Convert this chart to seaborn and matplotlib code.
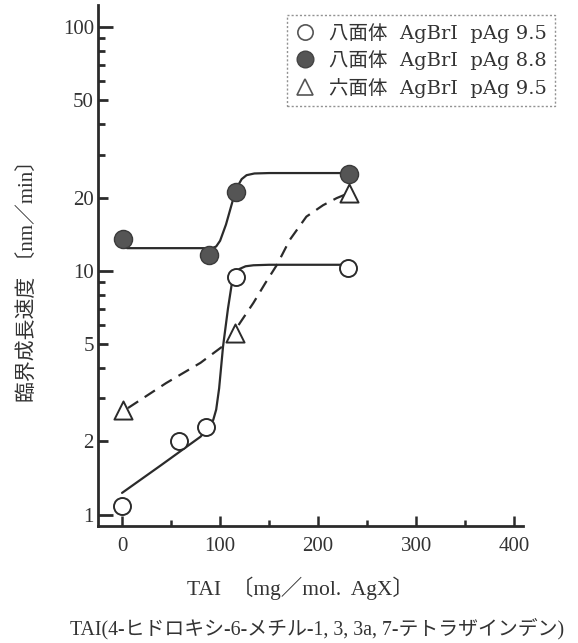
import numpy as np
import pandas as pd
import matplotlib
matplotlib.use("Agg")
import matplotlib.pyplot as plt
import seaborn as sns
from matplotlib.lines import Line2D

sns.set_theme(style="ticks")
FONT = ["Liberation Serif", "Noto Sans CJK JP", "DejaVu Sans"]
WIDE = ["DejaVu Serif", "Noto Sans CJK JP", "DejaVu Sans"]
plt.rcParams["font.family"] = FONT

# measured points
oct95_x = [0, 58, 86, 116, 230]
oct95_y = [1.09, 2.0, 2.29, 9.4, 10.3]
oct88_x = [1, 89, 116, 231]
oct88_y = [13.5, 11.6, 21.0, 24.9]
hex95_x = [1, 115, 231]
hex95_y = [2.69, 5.55, 20.9]

# hand-drawn trend curves through the measurements
oct95_curve_x = [0, 40, 80, 88, 93, 96, 99, 103, 108, 112, 116, 120, 126, 134, 150, 230]
oct95_curve_y = [1.23, 1.6, 2.09, 2.28, 2.45, 2.7, 3.3, 4.9, 7.0, 8.9, 9.8, 10.2, 10.45, 10.55, 10.6, 10.6]
oct88_curve_x = [5, 60, 92, 96, 100, 106, 113, 118, 122, 127, 135, 150, 228]
oct88_curve_y = [12.4, 12.4, 12.4, 12.6, 13.3, 15.5, 19.5, 22.3, 23.8, 24.7, 25.1, 25.2, 25.2]
hex95_curve_x = [6, 45, 80, 107, 120, 134, 146, 158, 171, 188, 205, 219, 228]
hex95_curve_y = [2.74, 3.47, 4.2, 5.06, 6.1, 7.4, 8.9, 10.6, 13.4, 16.7, 18.6, 19.9, 20.6]

legend_labels = ["八面体  AgBrI  pAg 9.5", "八面体  AgBrI  pAg 8.8", "六面体  AgBrI  pAg 9.5"]
y_major = [1, 2, 5, 10, 20, 50, 100]
y_minor = [3, 4, 6, 7, 8, 9, 30, 40, 60, 70, 80, 90]
x_major = [0, 100, 200, 300, 400]
x_minor = [50, 150, 250, 350]

ink = "#2b2b2b"
fig = plt.figure(figsize=(5.78, 6.43), dpi=100)
ax = fig.add_axes([0.1696, 0.182, 0.7354, 0.810])

curves = [
    (oct95_curve_x, oct95_curve_y, "-"),
    (oct88_curve_x, oct88_curve_y, "-"),
    (hex95_curve_x, hex95_curve_y, (0, (5.5, 3.5))),
]
for cx, cy, ls in curves:
    sns.lineplot(x=cx, y=cy, ax=ax, color=ink, linewidth=1.6, estimator=None,
                 sort=False, linestyle=ls)

sns.scatterplot(x=oct95_x, y=oct95_y, ax=ax, marker="o", s=150, facecolor="white",
                edgecolor=ink, linewidth=1.4, zorder=5)
sns.scatterplot(x=oct88_x, y=oct88_y, ax=ax, marker="o", s=170, color="#555555",
                edgecolor="#3a3a3a", linewidth=1.0, zorder=5)
sns.scatterplot(x=hex95_x, y=hex95_y, ax=ax, marker="^", s=170, facecolor="white",
                edgecolor=ink, linewidth=1.4, zorder=5)

ax.set_yscale("log")
ax.set_xlim(-24.5, 409)
ax.set_ylim(0.90, 123)
ax.set_yticks(y_major)
ax.set_yticklabels([str(v) for v in y_major])
ax.set_yticks(y_minor, minor=True)
ax.set_yticklabels([], minor=True)
ax.set_xticks(x_major)
ax.set_xticklabels([str(v) for v in x_major])
ax.set_xticks(x_minor, minor=True)

for side in ["top", "right"]:
    ax.spines[side].set_visible(False)
for side in ["left", "bottom"]:
    ax.spines[side].set_linewidth(2.0)
    ax.spines[side].set_color(ink)

ax.tick_params(axis="both", which="both", direction="in", colors=ink,
               labelsize=15, labelcolor="#333333")
ax.tick_params(axis="y", which="major", length=7, width=2.0, pad=3)
ax.tick_params(axis="y", which="minor", length=5, width=2.0)
ax.tick_params(axis="x", which="major", length=7, width=1.8, pad=8)
ax.tick_params(axis="x", which="minor", length=4, width=1.8)
# decade ticks drawn longer
for t in ax.yaxis.get_major_ticks():
    if t.get_loc() in (1, 10, 100):
        t.tick1line.set_markersize(11)

ax.set_xlabel("")
ax.set_ylabel("")
fig.text(0.050, 0.571, "臨界成長速度 〔nm／min〕", rotation=90, ha="center", va="center",
         fontsize=15, color="#333333", family=FONT)
fig.text(0.519, 0.085, "TAI  〔mg／mol.  AgX〕", ha="center", va="center",
         fontsize=15.5, color="#333333", family=FONT)
fig.text(0.549, 0.023, "TAI(4-ヒドロキシ-6-メチル-1, 3, 3a, 7-テトラザインデン)",
         ha="center", va="center", fontsize=14.3, color="#333333", family=FONT)

handles = [
    Line2D([], [], linestyle="none", marker="o", markersize=11, markerfacecolor="white",
           markeredgecolor="#555555", markeredgewidth=1.2),
    Line2D([], [], linestyle="none", marker="o", markersize=12, markerfacecolor="#555555",
           markeredgecolor="#444444"),
    Line2D([], [], linestyle="none", marker="^", markersize=11, markerfacecolor="white",
           markeredgecolor="#555555", markeredgewidth=1.2),
]
leg = ax.legend(handles, legend_labels, loc="upper right",
                bbox_to_anchor=(555 / 578, 1 - 15 / 643), bbox_transform=fig.transFigure,
                borderaxespad=0.0, frameon=True, fancybox=False, handletextpad=0.75,
                handlelength=1.0, labelspacing=0.38, borderpad=0.42,
                prop={"family": WIDE, "size": 14})
frame = leg.get_frame()
frame.set_linestyle((0, (1.5, 1.5)))
frame.set_edgecolor("#777777")
frame.set_linewidth(1.0)
for txt in leg.get_texts():
    txt.set_color("#333333")

fig.savefig("out.png", dpi=100, facecolor="white")
